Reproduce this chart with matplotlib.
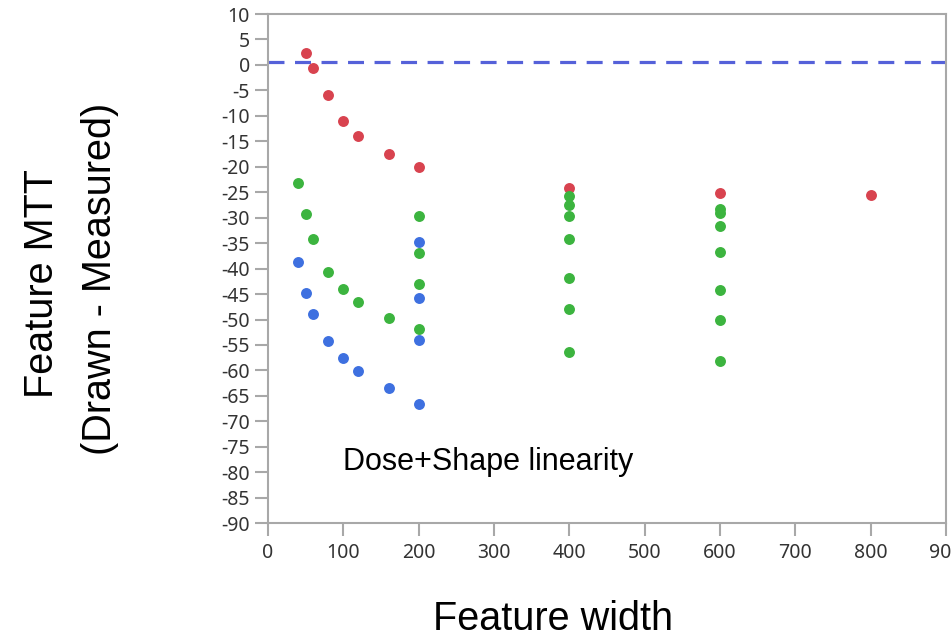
import matplotlib
matplotlib.use("Agg")
import matplotlib.pyplot as plt

# Data
red_x = [50, 60, 80, 100, 120, 160, 200, 400, 600, 800]
red_y = [2.3, -0.6, -5.9, -11.0, -14.0, -17.5, -20.0, -24.2, -25.1, -25.6]

green_x = [40, 50, 60, 80, 100, 120, 160, 200, 200, 200, 200,
           400, 400, 400, 400, 400, 400, 400,
           600, 600, 600, 600, 600, 600, 600]
green_y = [-23.2, -29.2, -34.1, -40.6, -44.1, -46.6, -49.7, -29.7, -37.0, -43.1, -51.9,
           -25.7, -27.6, -29.7, -34.2, -41.8, -47.9, -56.3,
           -28.2, -29.1, -31.7, -36.7, -44.2, -50.0, -58.2]

blue_x = [40, 50, 60, 80, 100, 120, 160, 200, 200, 200, 200]
blue_y = [-38.7, -44.7, -48.9, -54.3, -57.6, -60.2, -63.5, -34.7, -45.8, -54.1, -66.5]

ref_line = 0.6
x_ticks = [0, 100, 200, 300, 400, 500, 600, 700, 800, 900]
y_ticks = list(range(10, -95, -5))

REG = ["Liberation Sans"]

W, H = 952, 638
fig = plt.figure(figsize=(W / 100, H / 100), dpi=100)
ax = fig.add_axes([0.2815, 0.180, 0.7122, 0.798])

ax.axhline(ref_line, color="#5561d9", lw=2.3, dashes=(5, 3.3), zorder=1)
ax.scatter(red_x, red_y, s=62, color="#d8434f", linewidths=0, zorder=3)
ax.scatter(green_x, green_y, s=62, color="#3cb43f", linewidths=0, zorder=3)
ax.scatter(blue_x, blue_y, s=62, color="#3e70e0", linewidths=0, zorder=3)

ax.set_xlim(0, 900)
ax.set_ylim(-90, 10)
ax.set_xticks(x_ticks)
ax.set_yticks(y_ticks)
ax.set_yticklabels([str(v) for v in y_ticks])

for sp in ax.spines.values():
    sp.set_color("#a8a8a8")
    sp.set_linewidth(1.5)

ax.tick_params(axis="both", colors="#a8a8a8", width=1.5, length=9.5,
               labelcolor="#333333", labelsize=14)
ax.tick_params(axis="x", pad=5)
for lab in ax.get_xticklabels() + ax.get_yticklabels():
    lab.set_family("Noto Sans")

ax.text(99.6, -79.6, "Dose+Shape linearity", fontsize=22, family=REG,
        va="baseline", ha="left", color="black")

fig.text(553 / W, 1 - 630 / H, "Feature width", fontsize=28.5, family=REG,
         ha="center", va="baseline")

fig.text(53 / W, 1 - 398 / H, "Feature MTT", fontsize=28.5, family=REG,
         rotation=90, rotation_mode="anchor", ha="left", va="baseline")
fig.text(111 / W, 1 - 455 / H, "(Drawn - Measured)", fontsize=28.5, family=REG,
         rotation=90, rotation_mode="anchor", ha="left", va="baseline")

fig.savefig("out.png", dpi=100)
